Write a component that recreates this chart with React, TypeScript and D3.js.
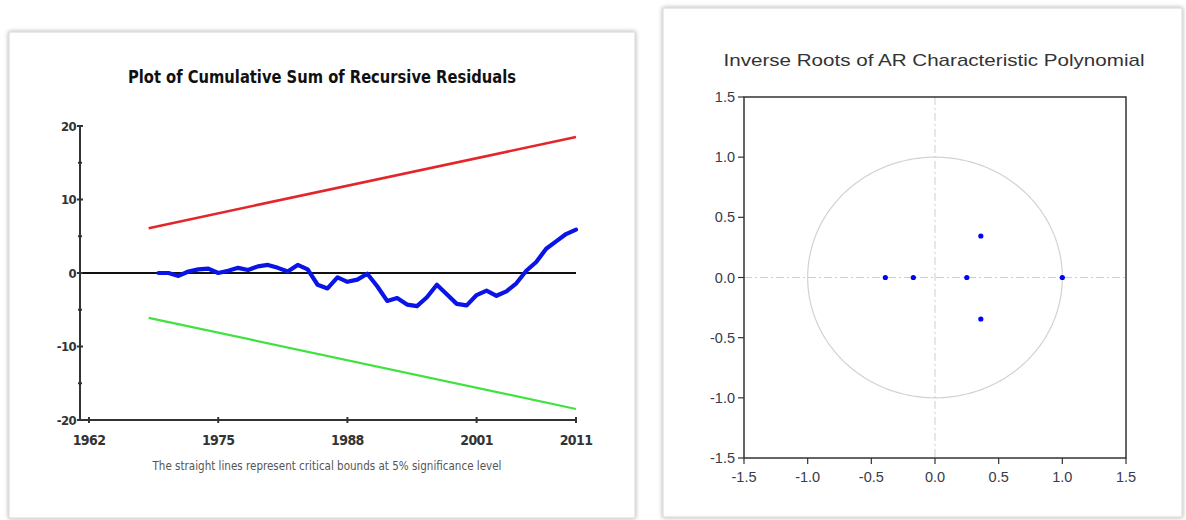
import React from "react";
import * as d3 from "d3";

// CUSUM test: cumulative sum of recursive residuals, 1969-2011
const cusumStartYear = 1969;
const cusum = [
  0.0, 0.0, -0.4, 0.2, 0.5, 0.6, 0.0, 0.3, 0.7, 0.4,
  0.9, 1.1, 0.7, 0.2, 1.1, 0.5, -1.6, -2.1, -0.6, -1.2,
  -0.9, -0.1, -1.8, -3.8, -3.4, -4.3, -4.5, -3.3, -1.6, -2.9,
  -4.2, -4.4, -3.0, -2.4, -3.1, -2.5, -1.4, 0.3, 1.5, 3.3,
  4.3, 5.3, 5.9,
];
// 5% critical bounds (straight lines between their end points)
const boundYears = [1968, 2011];
const upperBound = [6.1, 18.5];
const lowerBound = [-6.1, -18.5];
const yearTicks = [1962, 1975, 1988, 2001, 2011];
const cusumTicks = [-20, -10, 0, 10, 20];
const cusumMinorTicks = [-15, -5, 5, 15];

// Inverse roots of the AR characteristic polynomial
const rootRe = [-0.39, -0.17, 0.25, 0.36, 0.36, 1.0];
const rootIm = [0.0, 0.0, 0.0, 0.345, -0.345, 0.0];
const rootTicks = [-1.5, -1.0, -0.5, 0.0, 0.5, 1.0, 1.5];

const narrow = "'Liberation Sans Narrow', 'DejaVu Sans Condensed', 'Arial Narrow', sans-serif";
const sans = "'Liberation Sans', Arial, Helvetica, sans-serif";

function CusumPanel() {
  const x = d3.scaleLinear().domain([1962, 2011]).range([89, 576]);
  const y = d3.scaleLinear().domain([-20, 20]).range([420, 126]);
  const axisX = 80;
  const line = d3
    .line<[number, number]>()
    .x((d) => x(d[0]))
    .y((d) => y(d[1]));
  const cusumPts: [number, number][] = cusum.map((v, i) => [cusumStartYear + i, v]);
  const upperPts: [number, number][] = boundYears.map((yr, i) => [yr, upperBound[i]]);
  const lowerPts: [number, number][] = boundYears.map((yr, i) => [yr, lowerBound[i]]);
  const axisColor = "#333";
  return (
    <g>
      <rect x={9} y={32} width={626} height={486} fill="#fff" stroke="#d6d6d6" filter="url(#panelShadow)" />
      <text
        x={322}
        y={83}
        textAnchor="middle"
        fontFamily={narrow}
        fontWeight="bold"
        fontSize={18}
        fill="#111"
        textLength={388}
        lengthAdjust="spacingAndGlyphs"
      >
        Plot of Cumulative Sum of Recursive Residuals
      </text>

      {/* bounds */}
      <path d={line(upperPts) ?? ""} fill="none" stroke="#e3262b" strokeWidth={2.6} />
      <path d={line(lowerPts) ?? ""} fill="none" stroke="#3fe23f" strokeWidth={2.2} />

      {/* zero reference line */}
      <line x1={axisX} x2={x(2011)} y1={y(0)} y2={y(0)} stroke="#111" strokeWidth={2} />

      {/* cusum */}
      <path
        d={line(cusumPts) ?? ""}
        fill="none"
        stroke="#0a14e6"
        strokeWidth={4.2}
        strokeLinejoin="round"
        strokeLinecap="round"
      />

      {/* y axis */}
      <line x1={axisX} x2={axisX} y1={y(20)} y2={y(-20)} stroke={axisColor} strokeWidth={2} />
      {cusumTicks.map((t) => (
        <g key={"yt" + t}>
          <line x1={axisX - 3} x2={axisX + 3} y1={y(t)} y2={y(t)} stroke={axisColor} strokeWidth={2} />
          <text
            x={axisX - 4}
            y={y(t) + 4.5}
            textAnchor="end"
            fontFamily={narrow}
            fontWeight="bold"
            fontSize={13}
            letterSpacing={-0.6}
            fill="#333"
          >
            {t}
          </text>
        </g>
      ))}
      {cusumMinorTicks.map((t) => (
        <line key={"ym" + t} x1={axisX - 2} x2={axisX + 2} y1={y(t)} y2={y(t)} stroke={axisColor} strokeWidth={2} />
      ))}

      {/* x axis */}
      <line x1={axisX} x2={x(2011)} y1={y(-20)} y2={y(-20)} stroke={axisColor} strokeWidth={2} />
      {yearTicks.map((t) => (
        <g key={"xt" + t}>
          <line x1={x(t)} x2={x(t)} y1={y(-20) - 3} y2={y(-20) + 3} stroke={axisColor} strokeWidth={2} />
          <text
            x={x(t)}
            y={445}
            textAnchor="middle"
            fontFamily={narrow}
            fontWeight="bold"
            fontSize={14}
            letterSpacing={-0.6}
            fill="#333"
          >
            {t}
          </text>
        </g>
      ))}

      <text
        x={327}
        y={470}
        textAnchor="middle"
        fontFamily={narrow}
        fontSize={13}
        fill="#555"
        textLength={349}
        lengthAdjust="spacingAndGlyphs"
      >
        The straight lines represent critical bounds at 5% significance level
      </text>
    </g>
  );
}

function RootsPanel() {
  const x = d3.scaleLinear().domain([-1.5, 1.5]).range([744, 1126]);
  const y = d3.scaleLinear().domain([-1.5, 1.5]).range([458, 97]);
  const fmt = (v: number) => d3.format(".1f")(v).replace("\u2212", "-");
  const circle = d3
    .line<number>()
    .x((a) => x(Math.cos(a)))
    .y((a) => y(Math.sin(a)));
  const angles = d3.range(0, 361).map((deg) => (deg * Math.PI) / 180);
  const textColor = "#3a3a4a";
  return (
    <g>
      <rect x={663} y={8} width={519} height={509} fill="#fff" stroke="#d6d6d6" filter="url(#panelShadow)" />
      <text
        x={934}
        y={66}
        textAnchor="middle"
        fontFamily={sans}
        fontSize={17}
        fill="#333"
        textLength={421}
        lengthAdjust="spacingAndGlyphs"
      >
        Inverse Roots of AR Characteristic Polynomial
      </text>

      {/* unit circle and reference axes */}
      <path d={circle(angles) ?? ""} fill="none" stroke="#d2d2d2" strokeWidth={1.2} />
      <line x1={x(0)} x2={x(0)} y1={y(1.5)} y2={y(-1.5)} stroke="#cfcfcf" strokeWidth={1} strokeDasharray="8 3 2 3" />
      <line x1={x(-1.5)} x2={x(1.5)} y1={y(0)} y2={y(0)} stroke="#cfcfcf" strokeWidth={1} strokeDasharray="8 3 2 3" />

      {/* roots */}
      {rootRe.map((re, i) => (
        <circle key={"r" + i} cx={x(re)} cy={y(rootIm[i])} r={2.6} fill="#0000ff" />
      ))}

      {/* frame */}
      <rect x={x(-1.5)} y={y(1.5)} width={x(1.5) - x(-1.5)} height={y(-1.5) - y(1.5)} fill="none" stroke="#333" strokeWidth={1.5} />

      {rootTicks.map((t) => (
        <g key={"ry" + t}>
          <line x1={x(-1.5) - 6} x2={x(-1.5)} y1={y(t)} y2={y(t)} stroke="#333" strokeWidth={1.2} />
          <text x={x(-1.5) - 9} y={y(t) + 5} textAnchor="end" fontFamily={sans} fontSize={14.5} fill={textColor}>
            {fmt(t)}
          </text>
        </g>
      ))}
      {rootTicks.map((t) => (
        <g key={"rx" + t}>
          <line x1={x(t)} x2={x(t)} y1={y(-1.5)} y2={y(-1.5) + 6} stroke="#333" strokeWidth={1.2} />
          <text x={x(t)} y={482} textAnchor="middle" fontFamily={sans} fontSize={14.5} fill={textColor}>
            {fmt(t)}
          </text>
        </g>
      ))}
    </g>
  );
}

export default function App() {
  return (
    <svg
      width={1186}
      height={520}
      viewBox="0 0 1186 520"
      style={{ position: "absolute", left: 0, top: 0, background: "#fff" }}
    >
      <defs>
        <filter id="panelShadow" x="-5%" y="-5%" width="110%" height="110%">
          <feDropShadow dx={0} dy={0} stdDeviation={2} floodColor="#000" floodOpacity={0.35} />
        </filter>
      </defs>
      <CusumPanel />
      <RootsPanel />
    </svg>
  );
}
